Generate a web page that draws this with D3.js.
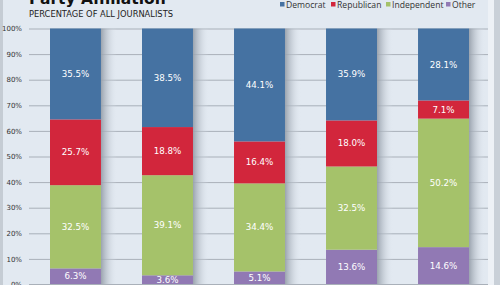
<!DOCTYPE html>
<html><head><meta charset="utf-8">
<script src="https://cdn.jsdelivr.net/npm/d3@7"></script>
<style>body{margin:0;overflow:hidden;background:#e2e9f1}</style>
</head><body>
<svg id="c" width="500" height="285"></svg>
<script>
const categories = ["1971", "1982", "1992", "2002", "2013"];
const seriesNames = ["Other", "Independent", "Republican", "Democrat"];
const other = [6.3, 3.6, 5.1, 13.6, 14.6];
const independent = [32.5, 39.1, 34.4, 32.5, 50.2];
const republican = [25.7, 18.8, 16.4, 18.0, 7.1];
const democrat = [35.5, 38.5, 44.1, 35.9, 28.1];
const yTicks = [0, 10, 20, 30, 40, 50, 60, 70, 80, 90, 100];
const legendOrder = ["Democrat", "Republican", "Independent", "Other"];

const colors = {Democrat: "#4572a2", Republican: "#d2263c", Independent: "#a5c26a", Other: "#9179b4"};
const rows = categories.map((c, i) => ({cat: c, Other: other[i], Independent: independent[i], Republican: republican[i], Democrat: democrat[i]}));
const stacked = d3.stack().keys(seriesNames)(rows);

const svg = d3.select("#c");
svg.append("rect").attr("x", 0).attr("y", 0).attr("width", 500).attr("height", 285).attr("fill", "#e2e9f1");
svg.append("rect").attr("x", 0).attr("y", 0).attr("width", 3).attr("height", 285).attr("fill", "#c5ccd4");
svg.append("rect").attr("x", 494).attr("y", 0).attr("width", 6).attr("height", 285).attr("fill", "#c9d0d8");
svg.append("rect").attr("x", 488).attr("y", 0).attr("width", 6).attr("height", 285).attr("fill", "#edf1f6");

const x = d3.scaleBand().domain(categories).range([50, 469]).paddingInner(0.446).paddingOuter(0);
const y = d3.scaleLinear().domain([0, 100]).range([284.5, 28.5]);

const defs = svg.append("defs");
const grad = defs.append("linearGradient").attr("id", "shadow").attr("x1", 0).attr("x2", 1).attr("y1", 0).attr("y2", 0);
grad.append("stop").attr("offset", "0%").attr("stop-color", "#97a0ab").attr("stop-opacity", 0.95);
grad.append("stop").attr("offset", "40%").attr("stop-color", "#b6bec8").attr("stop-opacity", 0.6);
grad.append("stop").attr("offset", "100%").attr("stop-color", "#e2e9f1").attr("stop-opacity", 0);

const yAxis = d3.axisLeft(y).tickValues(yTicks).tickFormat(d => d + "%").tickSize(-(488 - 29)).tickPadding(7);
const gy = svg.append("g").attr("transform", "translate(29,0)").call(yAxis);
gy.select(".domain").remove();
gy.selectAll(".tick line").attr("stroke", "#a9b0b9").attr("stroke-width", 1);
gy.selectAll(".tick text").attr("font-family", "DejaVu Sans, Verdana, sans-serif").attr("font-size", 7).attr("fill", "#333").attr("x", -7);

svg.append("g").selectAll("rect").data(rows).join("rect")
  .attr("x", d => x(d.cat) + x.bandwidth())
  .attr("y", y(100))
  .attr("width", 16)
  .attr("height", y(0) - y(100))
  .attr("fill", "url(#shadow)");

const layers = svg.append("g").selectAll("g").data(stacked).join("g").attr("fill", d => colors[d.key]);
layers.selectAll("rect").data(d => d.map(v => ({v, key: d.key}))).join("rect")
  .attr("x", d => x(d.v.data.cat))
  .attr("width", x.bandwidth())
  .attr("y", d => y(d.v[1]))
  .attr("height", d => y(d.v[0]) - y(d.v[1]));

layers.selectAll("text").data(d => d.map(v => ({v, key: d.key}))).join("text")
  .attr("x", d => x(d.v.data.cat) + x.bandwidth() / 2)
  .attr("y", d => (y(d.v[0]) + y(d.v[1])) / 2)
  .attr("dy", "0.35em")
  .attr("text-anchor", "middle")
  .attr("fill", "#fff")
  .attr("font-family", "DejaVu Sans, Verdana, sans-serif")
  .attr("font-size", 8.7)
  .text(d => (d.v.data[d.key]).toFixed(1) + "%");

svg.append("line").attr("x1", 29).attr("x2", 488).attr("y1", y(0)).attr("y2", y(0)).attr("stroke", "#a9b0b9");

svg.append("text").attr("x", 29).attr("y", 4).attr("font-family", "DejaVu Sans, sans-serif")
  .attr("font-weight", "bold").attr("font-size", 15.5).attr("fill", "#111").text("Party Affiliation");
svg.append("text").attr("x", 29).attr("y", 17).attr("font-family", "DejaVu Sans, sans-serif")
  .attr("font-size", 8.3).attr("fill", "#222").text("PERCENTAGE OF ALL JOURNALISTS");

const legendX = [280, 331, 386, 446];
const lg = svg.append("g").selectAll("g").data(legendOrder).join("g")
  .attr("transform", (d, i) => `translate(${legendX[i]},0)`);
lg.append("rect").attr("x", 0).attr("y", 2).attr("width", 4.5).attr("height", 4.5).attr("fill", d => colors[d]);
lg.append("text").attr("x", 6).attr("y", 4.5).attr("dy", "0.35em").attr("font-family", "Open Sans, sans-serif")
  .attr("font-size", 8.6).attr("fill", "#333").text(d => d);
</script>
</body></html>
